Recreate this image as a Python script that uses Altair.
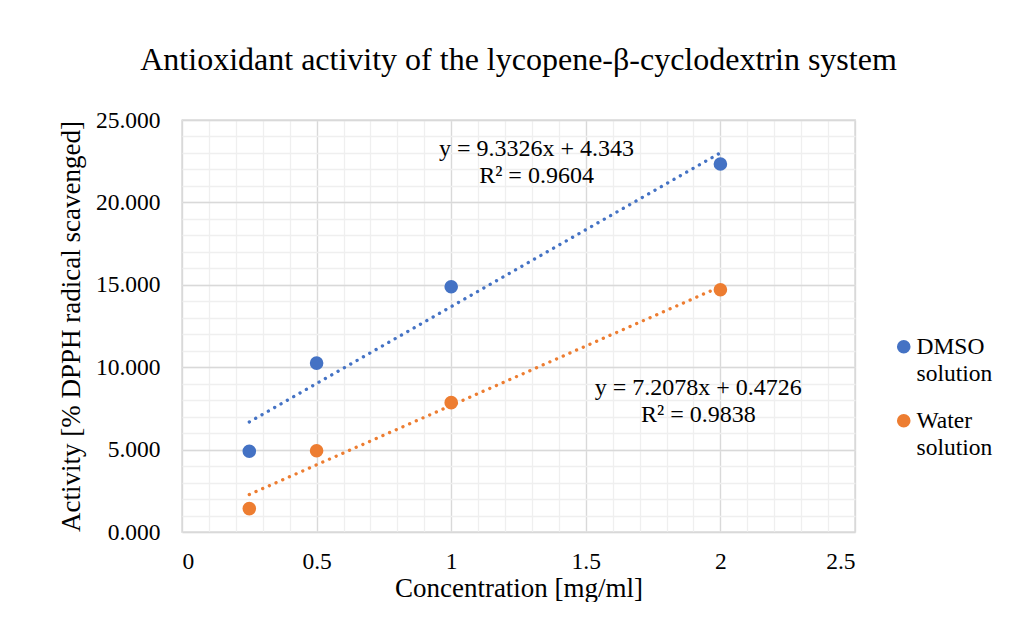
import altair as alt
import pandas as pd

# ---- data ----
series_names = ["DMSO solution", "Water solution"]
concentration = [0.25, 0.5, 1, 2]
dmso_activity = [4.90, 10.25, 14.88, 22.33]
water_activity = [1.42, 4.93, 7.85, 14.70]

trend_slope = [9.3326, 7.2078]
trend_intercept = [4.343, 0.4726]
trend_x_range = [0.25, 2]

equation_text = ["y = 9.3326x + 4.343", "R² = 0.9604",
                 "y = 7.2078x + 0.4726", "R² = 0.9838"]
equation_x = [1.317, 1.317, 1.918, 1.918]
equation_y = [23.21, 21.60, 8.72, 7.10]

x_ticks = [0, 0.5, 1, 1.5, 2, 2.5]
y_ticks = [0, 5, 10, 15, 20, 25]
x_minor = [round(i * 0.1, 1) for i in range(26)]
y_minor = list(range(26))

colors = ["#4472C4", "#ED7D31"]
FONT = "Liberation Serif"

# ---- tables ----
points_df = pd.DataFrame({
    "series": [series_names[0]] * 4 + [series_names[1]] * 4,
    "x": concentration + concentration,
    "y": dmso_activity + water_activity,
})

trend_rows = []
for name, m, b in zip(series_names, trend_slope, trend_intercept):
    for xv in trend_x_range:
        trend_rows.append({"series": name, "x": xv, "y": m * xv + b})
trend_df = pd.DataFrame(trend_rows)

eq_df = pd.DataFrame({"x": equation_x, "y": equation_y, "t": equation_text})

xscale = alt.Scale(domain=[0, 2.5], nice=False, zero=False)
yscale = alt.Scale(domain=[0, 25], nice=False)

# ---- trend lines (first one carries the minor grid) ----
minor_x_axis = alt.Axis(orient="top", values=x_minor, grid=True, gridColor="#EFEFEF",
                        gridWidth=1.3, labels=False, ticks=False, domain=False, title=None)
minor_y_axis = alt.Axis(orient="right", values=y_minor, grid=True, gridColor="#EFEFEF",
                        gridWidth=1.3, labels=False, ticks=False, domain=False, title=None)

trend_layers = []
for i, name in enumerate(series_names):
    trend_layers.append(
        alt.Chart(trend_df).transform_filter(alt.datum.series == name).mark_line(
            color=colors[i], strokeWidth=3.3, strokeCap="round", strokeDash=[0.1, 7.2]
        ).encode(
            x=alt.X("x:Q", scale=xscale, axis=minor_x_axis if i == 0 else None),
            y=alt.Y("y:Q", scale=yscale, axis=minor_y_axis if i == 0 else None),
        )
    )

# ---- points (carry the major grid, labels and legend) ----
major_x_axis = alt.Axis(orient="bottom", values=x_ticks, format="~g", grid=True,
                        gridColor="#D9D9D9", gridWidth=1.3, ticks=False, domain=False,
                        labelFontSize=23.5, labelPadding=17, labelColor="#000000",
                        title="Concentration [mg/ml]", titleFontSize=27,
                        titleFontWeight="normal", titleColor="#000000", titlePadding=3)
major_y_axis = alt.Axis(orient="left", values=y_ticks, format=".3f", grid=True,
                        gridColor="#D9D9D9", gridWidth=1.3, ticks=False, domain=False,
                        labelFontSize=23.5, labelPadding=22, labelColor="#000000",
                        title="Activity [% DPPH radical scavenged]", titleFontSize=27,
                        titleFontWeight="normal", titleColor="#000000", titlePadding=9.5)

points = alt.Chart(points_df).mark_circle(size=185, opacity=1).encode(
    x=alt.X("x:Q", scale=xscale, axis=major_x_axis),
    y=alt.Y("y:Q", scale=yscale, axis=major_y_axis),
    color=alt.Color("series:N", scale=alt.Scale(domain=series_names, range=colors),
                    legend=alt.Legend(
                        title=None, orient="none", legendX=710, legendY=215,
                        labelExpr="split(datum.label, ' ')",
                        labelFontSize=23.5, labelColor="#000000", labelFont=FONT,
                        symbolType="circle", symbolSize=185, labelOffset=1,
                        rowPadding=22, padding=0)),
)

# ---- trendline equations ----
eqs = alt.Chart(eq_df).mark_text(
    fontSize=24, align="center", baseline="middle", color="#000000", font=FONT
).encode(
    x=alt.X("x:Q", scale=xscale, axis=None),
    y=alt.Y("y:Q", scale=yscale, axis=None),
    text="t:N",
)

chart = alt.layer(*trend_layers, points, eqs).resolve_axis(
    x="independent", y="independent"
).properties(
    width=673,
    height=412,
    padding={"left": 49, "top": 36, "right": 0, "bottom": 0},
    title=alt.TitleParams(
        "Antioxidant activity of the lycopene-β-cyclodextrin system",
        fontSize=32, fontWeight="normal", color="#000000", font=FONT,
        anchor="middle", offset=31,
    ),
).configure(
    font=FONT,
    background="white",
    style={"guide-label": {"font": FONT, "lineHeight": 27}},
).configure_legend(
    labelFont=FONT, labelFontSize=23.5, labelColor="#000000",
).configure_view(
    stroke="#BFBFBF", strokeWidth=1.3,
)

chart.save("out.html", embed_options={"renderer": "svg", "actions": False})
